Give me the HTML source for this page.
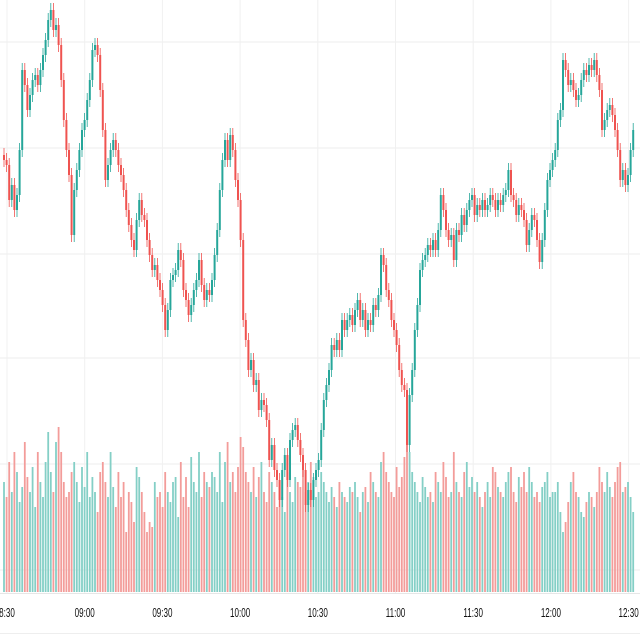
<!DOCTYPE html>
<html><head><meta charset="utf-8"><style>
body{margin:0;background:#fff;}
#wrap{position:relative;width:640px;height:640px;overflow:hidden;background:#fff;font-family:"Liberation Sans",sans-serif;}
svg{position:absolute;left:0;top:0;}
</style></head><body>
<div id="wrap">
<svg id="chart" width="640" height="640"></svg>
</div>
<script>
const timeLabels=["8:30","09:00","09:30","10:00","10:30","11:00","11:30","12:00","12:30"];
const closes=[440,435,400,415,390,405,450,530,515,490,505,520,525,515,530,545,560,580,590,570,575,555,520,480,450,425,365,410,430,450,470,480,500,520,550,555,545,510,470,420,435,450,460,450,435,425,410,390,375,360,350,380,400,385,380,360,345,330,335,320,310,295,270,290,320,325,330,350,340,310,300,285,295,310,320,340,315,300,310,305,320,345,370,410,440,460,440,465,450,420,400,360,280,260,230,240,215,220,190,200,195,180,140,155,130,120,100,130,145,120,160,170,175,160,145,130,95,110,100,120,130,140,170,200,215,230,255,250,260,250,280,270,280,285,275,290,300,280,290,270,280,275,295,290,305,345,335,310,300,280,270,255,230,215,210,155,205,230,270,295,330,340,345,355,350,360,350,370,405,390,370,360,365,340,370,365,385,375,390,400,405,385,395,390,400,390,395,405,400,390,400,395,405,410,430,405,400,385,395,390,380,355,370,385,380,360,338,360,390,420,430,440,450,480,490,540,530,515,520,510,500,505,520,530,525,535,530,540,525,510,470,480,490,495,485,470,450,420,430,415,425,450,470];
const volumes=[110,95,130,100,140,120,90,105,150,115,100,125,85,140,110,95,130,160,120,100,150,165,140,110,95,100,120,130,110,90,125,105,140,95,115,100,80,120,130,110,95,140,105,85,120,95,110,60,100,90,70,125,115,100,80,60,70,65,110,95,100,85,120,100,90,110,115,75,130,95,115,85,135,110,100,140,95,120,110,105,120,115,100,140,90,130,150,110,120,100,125,155,145,120,110,100,125,95,115,130,100,90,120,110,100,85,110,95,80,120,100,90,115,110,105,125,100,110,130,115,95,100,120,110,100,90,105,95,85,110,100,95,90,105,100,110,95,80,100,105,90,120,110,100,95,130,140,120,110,100,95,125,105,115,135,150,140,120,110,100,90,115,105,95,100,90,120,110,100,130,115,95,100,140,110,100,95,120,130,105,115,100,110,95,85,100,110,95,125,120,105,100,95,110,120,125,100,90,115,105,120,100,125,110,95,100,90,105,110,120,95,100,100,110,80,60,70,90,110,120,100,95,80,75,90,100,95,85,100,125,110,100,120,105,95,110,125,130,100,105,110,95,80,90,75];
const wick=[7];
const svgNS="http://www.w3.org/2000/svg";
const svg=document.getElementById('chart');
function el(t,a){const e=document.createElementNS(svgNS,t);for(const k in a)e.setAttribute(k,a[k]);svg.appendChild(e);return e;}
const x0=4,step=2.6;
function xScale(i){return x0+i*step;}
function yScale(p){return 600-p;}
function vScale(v){return 592-v;}
function tScale(k){return 7+k*77.7;}
[42,148,254,358,464,570].forEach(function(y){
 const g=el('line',{x1:0,x2:640,y1:y,y2:y,stroke:'#eeeeee','stroke-width':1});
 
 
});
timeLabels.forEach(function(t,k){
 const g=el('line',{x1:tScale(k),x2:tScale(k),y1:0,y2:593,stroke:'#f0f0f0','stroke-width':1});
 
 
});
closes.forEach(function(c,i){
 const o=i>0?closes[i-1]:c;
 const up=c>=o;
 const r=el('rect',{x:xScale(i)-0.9,y:vScale(volumes[i]),width:1.8,height:volumes[i],fill:up?'#84cfc6':'#f39c9a'});
 
 
});
closes.forEach(function(c,i){
 const o=i>0?closes[i-1]:c+5;
 const up=c>=o;
 const col=up?'#26a69a':'#ef5350';
 const hi=Math.max(o,c)+wick[0],lo=Math.min(o,c)-wick[0];
 const w=el('line',{x1:xScale(i),x2:xScale(i),y1:yScale(hi),y2:yScale(lo),stroke:col,'stroke-width':0.8});
 
 
 const top=yScale(Math.max(o,c)),h=Math.max(1,Math.abs(o-c));
 const b=el('rect',{x:xScale(i)-1,y:top,width:2,height:h,fill:col});
 
 
});
const ax=el('rect',{x:0,y:593,width:640,height:40,fill:'#fff'});


const axl=el('line',{x1:0,x2:640,y1:593.5,y2:593.5,stroke:'#e6e6e6','stroke-width':1});


const bl=el('line',{x1:0,x2:640,y1:633.5,y2:633.5,stroke:'#eeeeee','stroke-width':1});


timeLabels.forEach(function(t,k){
 const tx=el('text',{x:0,y:0,'font-size':13,fill:'#111','text-anchor':'middle',transform:'translate('+tScale(k)+',617) scale(0.62,1)'});
 tx.textContent=t;
 
 
});
</script>
</body></html>
